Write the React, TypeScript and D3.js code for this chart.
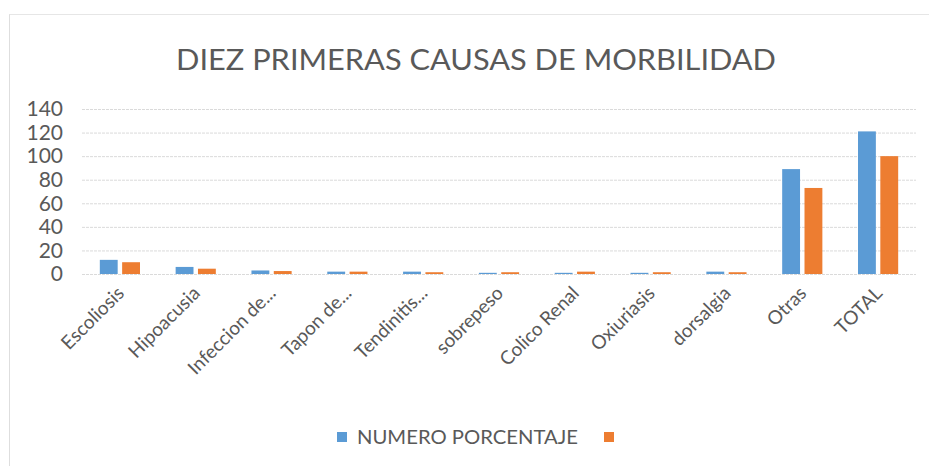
import React from 'react';
import * as d3 from 'd3';

// values
const categories = [
  'Escoliosis', 'Hipoacusia', 'Infeccion de...', 'Tapon de...', 'Tendinitis...',
  'sobrepeso', 'Colico Renal', 'Oxiuriasis', 'dorsalgia', 'Otras', 'TOTAL',
];
const numero = [12, 6, 3, 2, 2, 1, 1, 1, 2, 89, 121];
const porcentaje = [10, 4.5, 2.5, 2, 1.5, 1.5, 2, 1.5, 1.5, 73, 100];
const yTicks = [0, 20, 40, 60, 80, 100, 120, 140];

const seriesNames = ['NUMERO', 'PORCENTAJE'];
const colors = ['#5b9bd5', '#ed7d31'];

const W = 929;
const H = 466;
const left = 82;
const right = 916;
const top = 109;
const bottom = 274;
const font = 'Lato, "Open Sans", sans-serif';
const textColor = '#595959';

const App = () => {
  const x = d3.scaleBand<string>().domain(categories).range([left, right]).paddingInner(0.47).paddingOuter(0.235);
  const xs = d3.scaleBand<string>().domain(seriesNames).range([0, x.bandwidth()]).paddingInner(0.2);
  const y = d3.scaleLinear().domain([0, 140]).range([bottom, top]);

  const rows = categories.map((c, i) => ({ c, vals: [numero[i], porcentaje[i]] }));

  return (
    <svg width={W} height={H} style={{ display: 'block', position: 'absolute', left: 0, top: 0 }}>
      <rect x={0} y={0} width={W} height={H} fill="#fff" />
      {/* faint chart border from the scan */}
      <line x1={9.5} x2={9.5} y1={14} y2={H} stroke="#dedede" />
      <line x1={9.5} x2={W} y1={14.5} y2={14.5} stroke="#e6e6e6" />

      <text x={476} y={70} textAnchor="middle" fontFamily={font} fontSize={29} fill={textColor}
        textLength={600} lengthAdjust="spacingAndGlyphs">
        DIEZ PRIMERAS CAUSAS DE MORBILIDAD
      </text>

      {yTicks.map(t => (
        <g key={t}>
          <line x1={left} x2={right} y1={y(t) + 0.5} y2={y(t) + 0.5} stroke="#dadada" strokeDasharray="3,1" />
          <text x={63} y={y(t)} dy="0.35em" textAnchor="end" fontFamily={font} fontSize={21} fill={textColor}>{t}</text>
        </g>
      ))}

      {rows.map(r => (
        <g key={r.c} transform={`translate(${x(r.c)},0)`}>
          {r.vals.map((v, j) => (
            <rect key={j} x={xs(seriesNames[j])} y={y(v)} width={xs.bandwidth()} height={y(0) - y(v)} fill={colors[j]} />
          ))}
        </g>
      ))}

      {categories.map(c => {
        const cx = (x(c) as number) + x.bandwidth() / 2 - 4;
        return (
          <g key={c} transform={`translate(${cx} 285)`}>
            <g transform="rotate(-45)">
              <text x={0} y={0} dy="0.7em" textAnchor="end" fontFamily={font}
                fontSize={19} fill={textColor}>{c}</text>
            </g>
          </g>
        );
      })}

      {/* legend */}
      <rect x={337} y={432} width={10} height={10} fill={colors[0]} />
      <text x={357} y={437} dy="0.35em" fontFamily={font} fontSize={20} fill={textColor}
        textLength={221} lengthAdjust="spacingAndGlyphs">NUMERO  PORCENTAJE</text>
      <rect x={604} y={432} width={10} height={10} fill={colors[1]} />
    </svg>
  );
};

export default App;
